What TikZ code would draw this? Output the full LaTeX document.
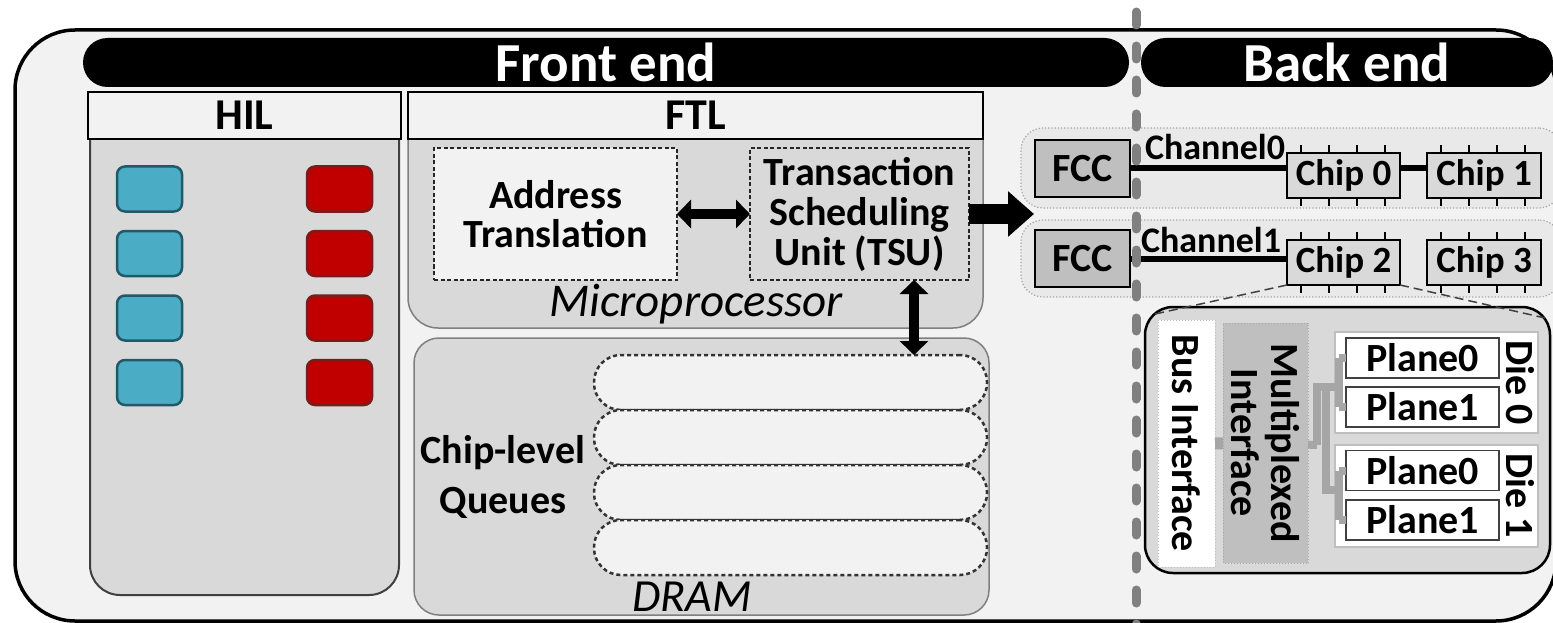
\documentclass[tikz,border=0pt]{standalone}
\usepackage{fontspec}
\setmainfont{Carlito}
\usetikzlibrary{arrows.meta,calc}
\definecolor{bgc}{HTML}{F2F2F2}
\definecolor{panel}{HTML}{D9D9D9}
\definecolor{dgray}{HTML}{BFBFBF}
\definecolor{grpc}{HTML}{E9E9E9}
\definecolor{cyanf}{HTML}{4BACC6}
\definecolor{cyanb}{HTML}{215968}
\definecolor{redf}{HTML}{C00000}
\definecolor{redb}{HTML}{7A1C1C}
\definecolor{midgray}{HTML}{7F7F7F}
\definecolor{treec}{HTML}{A6A6A6}
\definecolor{dashc}{HTML}{808080}
\tikzset{
  every node/.style={inner sep=0pt, outer sep=0pt},
  lbl/.style={font=\fontsize{40}{40}\selectfont\bfseries},
  bar/.style={fill=black, rounded corners=24.5pt, minimum height=49pt, text=white,
              font=\fontsize{55}{55}\selectfont\bfseries},
  header/.style={draw=black, line width=2.5pt, fill=bgc, minimum height=47pt,
              font=\fontsize{44}{44}\selectfont\bfseries},
  body/.style={fill=panel, rounded corners=30pt},
  bluebox/.style={draw=cyanb, fill=cyanf, line width=2.5pt, rounded corners=8pt,
              minimum width=65pt, minimum height=45pt},
  redbox/.style={draw=redb, fill=redf, line width=2.5pt, rounded corners=8pt,
              minimum width=65pt, minimum height=45pt},
  dashbox/.style={draw=black!85, line width=2pt, dash pattern=on 4pt off 2.5pt,
              minimum height=132pt, lbl, align=center},
  queue/.style={draw=black!80, fill=bgc, line width=2.5pt, dash pattern=on 4pt off 3pt,
              rounded corners=27pt, minimum width=393pt, minimum height=55pt},
  itlbl/.style={font=\fontsize{46}{46}\selectfont\itshape},
  dblarrow/.style={line width=10pt, {Triangle[length=14pt,width=28pt]}-{Triangle[length=14pt,width=28pt]}},
  bigarrow/.style={line width=20pt, -{Triangle[length=26pt,width=44pt]}},
  grp/.style={draw=treec, fill=grpc, line width=1.2pt, dotted, rounded corners=22pt},
  fcc/.style={draw=black, fill=dgray, line width=2.5pt, minimum width=95pt,
              minimum height=57pt, lbl},
  chip/.style={draw=black, fill=panel, line width=2.5pt, minimum width=113pt,
              minimum height=45pt, font=\fontsize{37}{37}\selectfont\bfseries},
  chan/.style={line width=6pt, black},
  pin/.style={line width=2.2pt, black},
  chlbl/.style={font=\fontsize{36}{36}\selectfont\bfseries},
  tree/.style={line width=8pt, treec},
  diecont/.style={draw=dgray, fill=white, line width=1.5pt, minimum width=203pt,
              minimum height=101pt},
  plane/.style={draw=black!75, fill=white, line width=1.5pt, minimum width=153pt,
              minimum height=40pt, lbl},
  vdash/.style={dashc, line width=9pt, line cap=round, dash pattern=on 13pt off 21pt},
}
\begin{document}
\begin{tikzpicture}[x=1pt,y=-1pt]
\useasboundingbox (0,0) rectangle (1553,623);
\clip (0,0) rectangle (1553,623);
\fill[white] (0,0) rectangle (1553,623);

% outer frame
\node[draw=black, line width=3.5pt, fill=bgc, rounded corners=60pt,
      minimum width=1541pt, minimum height=591pt] (frame) at (785.5,325.5) {};

% bars
\node[bar, minimum width=1046pt] (front) at (606,62.5) {Front end};
\node[bar, minimum width=412pt] (back) at (1347,62.5) {Back end};

% HIL
\node[body, draw=black!75, line width=2pt, minimum width=309pt, minimum height=495pt]
     (hilbody) at (244.5,347.5) {};
\node[header, minimum width=313pt] (hil) at (244.5,115.5) {HIL};
\foreach \i/\yy in {1/189,2/253.5,3/318,4/382.5}{
  \node[bluebox] (b\i) at (149.5,\yy) {};
  \node[redbox] (r\i) at (339.5,\yy) {};
}

% FTL / Microprocessor
\node[body, draw=midgray, line width=1.5pt, minimum width=575pt, minimum height=228pt]
     (micro) at (695.5,214) {};
\node[header, minimum width=575pt] (ftl) at (695.5,115.5) {FTL};
\node[dashbox, fill=bgc, minimum width=243pt] (addr) at (555.5,214) {Address\\[-1pt]Translation};
\node[dashbox, minimum width=219pt] (tsu) at (859.5,214) {Transaction\\Scheduling\\Unit (TSU)};
\node[itlbl, font=\fontsize{47}{47}\selectfont\itshape] (mptext) at (696,304) {Microprocessor};

% DRAM
\node[draw=midgray, line width=1.5pt, fill=panel, rounded corners=25pt,
      minimum width=575pt, minimum height=277pt] (dram) at (701.5,476.5) {};
\foreach \i/\yy in {1/382.5,2/437.5,3/492.5,4/547.5}{
  \node[queue] (q\i) at (790.5,\yy) {};
}
\node[lbl, align=center, font=\fontsize{40}{50}\selectfont\bfseries] (cq) at (503,477) {Chip-level\\Queues};
\node[itlbl] (dramtext) at (692,597) {DRAM};

% arrows in the front end
\draw[dblarrow] (addr) -- (tsu);
\coordinate (tsuout) at (1034,214);
\draw[bigarrow] (tsu.east) -- (tsuout);
\path (tsu.south) ++(54.5,0) coordinate (ua);
\draw[dblarrow] (ua) -- (ua |- q1.north);

% back end: channel groups
\node[grp, minimum width=540pt, minimum height=80pt] (g0) at (1291,168) {};
\node[grp, minimum width=540pt, minimum height=77pt] (g1) at (1291,258.5) {};
\node[fcc] (fcc0) at (1082.5,168.5) {FCC};
\node[fcc] (fcc1) at (1082.5,258.5) {FCC};
\node[chip] (c0) at (1343.5,175.5) {Chip 0};
\node[chip, minimum width=114pt] (c1) at (1484,175.5) {Chip 1};
\node[chip] (c2) at (1343.5,262.5) {Chip 2};
\node[chip, minimum width=114pt] (c3) at (1484,262.5) {Chip 3};
\foreach \c in {c0,c1,c2,c3}{
  \foreach \dx in {14,42,70,98}{
    \draw[pin] ([xshift=\dx pt]\c.north west) -- ++(0,-8);
    \draw[pin] ([xshift=\dx pt]\c.south west) -- ++(0,8);
  }
}
\draw[chan] (fcc0.east) -- (fcc0.east -| c0.west);
\draw[chan] (fcc0.east -| c0.east) -- (fcc0.east -| c1.west);
\draw[chan] (fcc1.east) -- (fcc1.east -| c2.west);
\node[chlbl] (ch0) at (1215,147) {Channel0};
\node[chlbl] (ch1) at (1211,240) {Channel1};

% expanded chip
\node[draw=black, line width=2.5pt, fill=panel, rounded corners=28pt,
      minimum width=405pt, minimum height=266pt] (diebox) at (1347.5,440) {};
\coordinate (dl) at (1155,314);
\coordinate (dr) at (1545,318);
\draw[black!75, line width=1.5pt, dash pattern=on 9pt off 5pt] (c2.south west) -- (dl);
\draw[black!75, line width=1.5pt, dash pattern=on 9pt off 5pt] (c2.south east) -- (dr);

\node[draw=dgray, fill=white, line width=1pt, dotted, rotate=-90,
      minimum width=247pt, minimum height=57pt, lbl] (bus) at (1186.5,443.5) {Bus Interface};
\node[draw=treec, fill=dgray, line width=1pt, dotted, rotate=-90,
      minimum width=240pt, minimum height=85pt, lbl, align=center] (mux) at (1265.5,443)
      {Multiplexed\\Interface};
\draw[line width=12pt, treec] (bus) -- (mux);

\node[diecont] (die0) at (1436.5,382.5) {};
\node[diecont, minimum height=102pt] (die1) at (1436.5,496) {};
\node[plane] (p00) at (1422.5,358) {Plane0};
\node[plane] (p01) at (1422.5,407) {Plane1};
\node[plane] (p10) at (1422.5,470.5) {Plane0};
\node[plane] (p11) at (1422.5,520) {Plane1};
\node[lbl, rotate=-90] (d0lbl) at (1520,383) {Die 0};
\node[lbl, rotate=-90] (d1lbl) at (1520,496) {Die 1};

% interconnect tree
\coordinate (ja) at (1317,445);
\coordinate (jb) at (1317,387);
\coordinate (jc) at (1339,387);
\coordinate (jd) at (1326,390);
\coordinate (je) at (1326,490);
\coordinate (jf) at (1339,490);
\draw[tree] (mux) -- (ja);
\draw[tree] (ja) -- (jb) -- (jc);
\draw[tree] (jd) -- (je) -- (jf);
\draw[tree] (jc |- p00) -- (jc |- p01);
\draw[tree] (jc |- p00) -- (p00.west);
\draw[tree] (jc |- p01) -- (p01.west);
\draw[tree] (jf |- p10) -- (jf |- p11);
\draw[tree] (jf |- p10) -- (p10.west);
\draw[tree] (jf |- p11) -- (p11.west);

% front end / back end divider
\coordinate (dtop) at (1136,12);
\coordinate (dbot) at (1136,630);
\draw[vdash] (dtop) -- (dbot);
\end{tikzpicture}
\end{document}
